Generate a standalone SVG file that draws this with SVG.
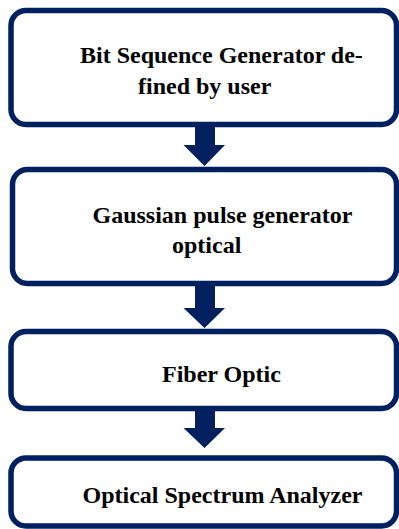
<svg xmlns="http://www.w3.org/2000/svg" width="399" height="529" viewBox="0 0 399 529">
<style>
.box{fill:#ffffff;stroke:#002060;stroke-width:5.5}
.lbl{font-family:"Liberation Serif","Times New Roman",serif;font-weight:bold;font-size:24px;fill:#000000}
.arr{fill:#002060}
</style>
<rect width="399" height="529" fill="#ffffff"/>
<g id="node-bit-sequence">
<rect class="box" x="11" y="10.5" width="385.5" height="114" rx="15" ry="15"/>
<text class="lbl" x="80" y="63">Bit Sequence Generator de-</text>
<text class="lbl" x="138" y="94">fined by user</text>
</g>
<g id="node-gaussian">
<rect class="box" x="12.5" y="169.5" width="384" height="114" rx="15" ry="15"/>
<text class="lbl" x="92.5" y="222.5">Gaussian pulse generator</text>
<text class="lbl" x="172" y="253">optical</text>
</g>
<g id="node-fiber">
<rect class="box" x="11" y="331.5" width="385.5" height="77" rx="15" ry="15"/>
<text class="lbl" x="162" y="381.5">Fiber Optic</text>
</g>
<g id="node-osa">
<rect class="box" x="11" y="458" width="385.5" height="68" rx="15" ry="15"/>
<text class="lbl" x="82.5" y="502.5">Optical Spectrum Analyzer</text>
</g>
<g id="connectors">
<polygon class="arr" points="195,127 215,127 215,145 225,145 204.5,166 183.5,145 195,145"/>
<polygon class="arr" points="195,286 215,286 215,308 225,308 204.5,328 183.5,308 195,308"/>
<polygon class="arr" points="195,410 215,410 215,428 225,428 204.5,448 183.5,428 195,428"/>
</g>
</svg>
